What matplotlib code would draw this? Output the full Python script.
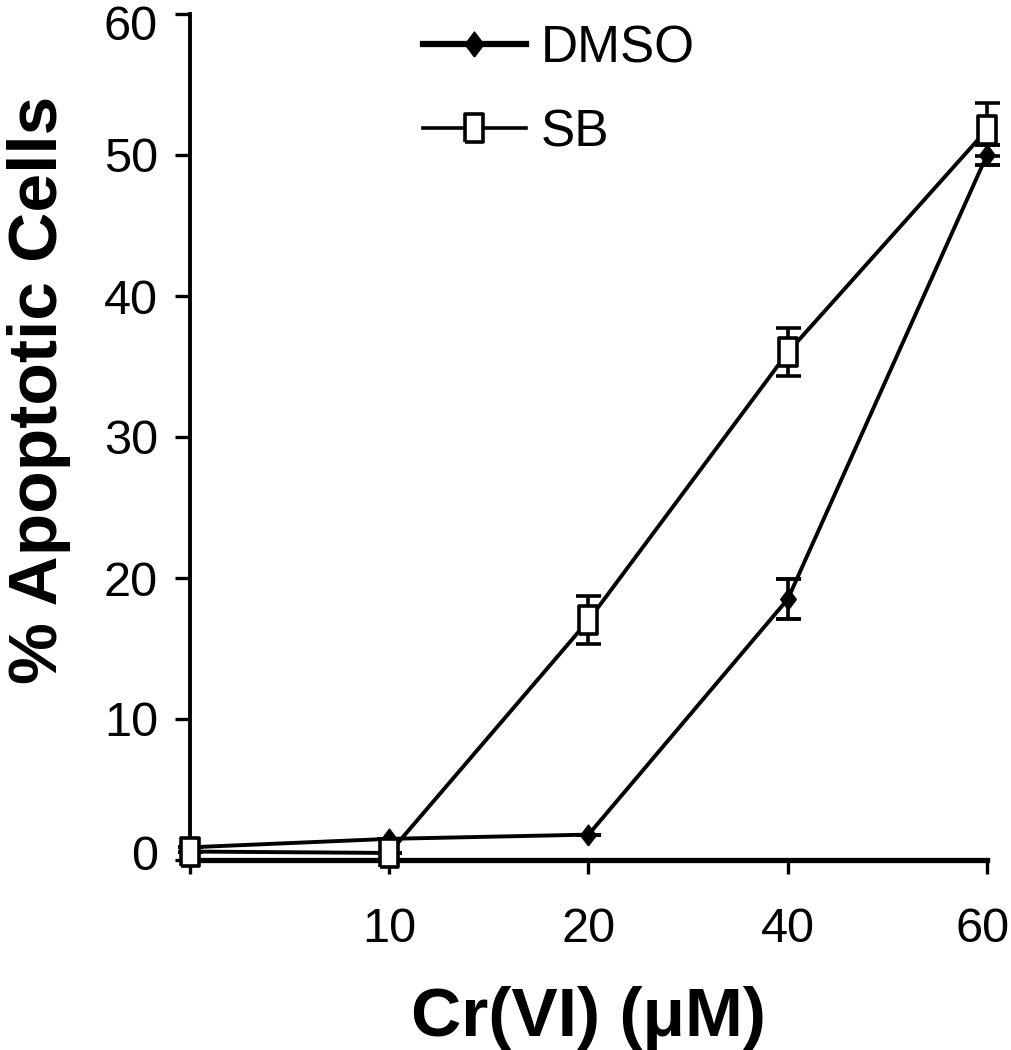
import matplotlib
matplotlib.use('Agg')
import matplotlib.pyplot as plt
from matplotlib.lines import Line2D
from matplotlib.transforms import ScaledTranslation

plt.rcParams.update({
    'font.family': ['Liberation Sans', 'DejaVu Sans'],
    'xtick.labelsize': 35,
    'ytick.labelsize': 35,
})

# data
doses = ['', '10', '20', '40', '60']
dmso = [0.9, 1.5, 1.8, 18.5, 50.0]
dmso_err = [0.0, 0.0, 0.0, 1.4, 0.7]
sb = [0.6, 0.5, 17.0, 36.0, 51.8]
sb_err = [0.0, 0.0, 1.7, 1.7, 1.9]

x = list(range(len(doses)))

fig = plt.figure(figsize=(10.12, 10.5), dpi=100)
ax = fig.add_axes([190 / 1012, (1050 - 860) / 1050, 797 / 1012, 846 / 1050])

# tall rectangle marker like the original
rect = [(-0.62, -1), (0.62, -1), (0.62, 1), (-0.62, 1), (-0.62, -1)]
diam = [(0, -1), (0.75, 0), (0, 1), (-0.75, 0), (0, -1)]

ax.errorbar(x, dmso, yerr=dmso_err, color='black', lw=2.8, marker=diam,
            ms=15, mfc='black', mec='black', capsize=9, capthick=2.8,
            elinewidth=2.6, label='DMSO', zorder=3)
ax.errorbar(x, sb, yerr=sb_err, color='black', lw=2.8, marker=rect,
            ms=20, mfc='white', mec='black', mew=2.6, capsize=9,
            capthick=2.8, elinewidth=2.6, label='SB', zorder=4)

ax.set_xlim(0, 4)
ax.set_ylim(0, 60)
ax.set_xticks(x)
ax.set_xticklabels(doses)
ax.set_yticks([0, 10, 20, 30, 40, 50, 60])

for side in ['top', 'right']:
    ax.spines[side].set_visible(False)
ax.spines['left'].set_linewidth(2.8)
ax.spines['bottom'].set_linewidth(3.8)
for sp in ax.spines.values():
    sp.set_clip_on(False)

ax.tick_params(axis='y', direction='out', length=11, width=2.4, pad=12)
ax.tick_params(axis='x', direction='out', length=10, width=2.4, pad=24)

ax.set_ylabel('% Apoptotic Cells', fontsize=50, fontweight='bold')
ax.yaxis.set_label_coords(-0.19, 0.556)
ax.set_xlabel('Cr(VI) (μM)', fontsize=50, fontweight='bold')
ax.xaxis.set_label_coords(0.5, -0.187)
ax.xaxis.label.set_va('center')
ax.yaxis.label.set_va('center')

# legend handles without the error bars
h1 = Line2D([], [], color='black', lw=4.5, marker=diam, ms=18, mfc='black')
h2 = Line2D([], [], color='black', lw=2.6, marker=rect, ms=20, mfc='white',
            mec='black', mew=2.6)
ax.legend([h1, h2], ['DMSO', 'SB'], loc='upper left',
          bbox_to_anchor=(0.292, 0.988), borderaxespad=0, borderpad=0,
          frameon=False, fontsize=37, handlelength=2.0, handletextpad=0.3,
          labelspacing=0.68)

for c in ax.get_children():
    if hasattr(c, 'set_clip_on'):
        c.set_clip_on(False)

# nudge the edge labels so they stay inside the picture, as in the original
fig.canvas.draw()
yt = ax.yaxis.get_major_ticks()
xt = ax.xaxis.get_major_ticks()
yt[-1].label1.set_transform(yt[-1].label1.get_transform()
                            + ScaledTranslation(0, -0.08, fig.dpi_scale_trans))
yt[0].label1.set_transform(yt[0].label1.get_transform()
                           + ScaledTranslation(0, 0.08, fig.dpi_scale_trans))
xt[-1].label1.set_transform(xt[-1].label1.get_transform()
                            + ScaledTranslation(-0.04, 0, fig.dpi_scale_trans))

fig.savefig('out.png', dpi=100)
